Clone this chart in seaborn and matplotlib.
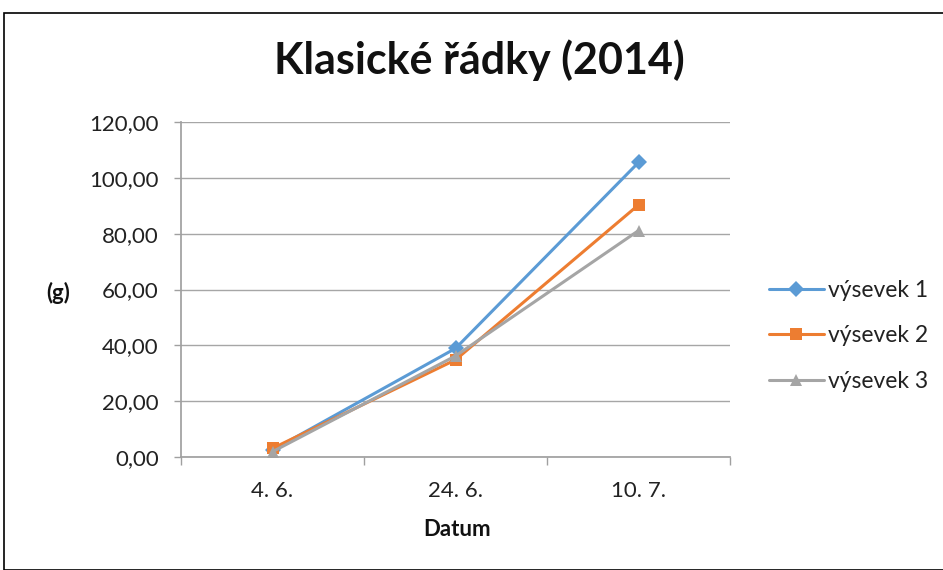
import matplotlib
matplotlib.use("Agg")
import matplotlib.pyplot as plt
import seaborn as sns
import pandas as pd
import numpy as np
from matplotlib.ticker import FixedLocator, FuncFormatter
from matplotlib.patches import Rectangle

categories = ["4. 6.", "24. 6.", "10. 7."]
vysevek1 = [2.5, 38.9, 105.5]
vysevek2 = [3.1, 34.8, 90.3]
vysevek3 = [1.9, 36.2, 81.1]
series_names = ["výsevek 1", "výsevek 2", "výsevek 3"]
title = "Klasické řádky (2014)"
xlabel = "Datum"
ylabel = "(g)"

rows = []
for name, vals in zip(series_names, [vysevek1, vysevek2, vysevek3]):
    for i, v in enumerate(vals):
        rows.append({"x": i, "y": v, "série": name})
df = pd.DataFrame(rows)

sns.set_theme(style="white")
plt.rcParams['font.family'] = ['Lato', 'DejaVu Sans']

fig = plt.figure(figsize=(9.43, 5.70), dpi=100)
ax = fig.add_axes([181/943, 1-457/570, 549/943, (457-122)/570])

palette = {"výsevek 1": "#5B9BD5", "výsevek 2": "#ED7D31", "výsevek 3": "#A5A5A5"}
markers = {"výsevek 1": "D", "výsevek 2": "s", "výsevek 3": "^"}
sns.lineplot(data=df, x="x", y="y", hue="série", style="série",
             palette=palette, markers=markers, dashes=False,
             linewidth=2.2, markersize=8, markeredgewidth=0, ax=ax)

ax.set_xlim(-0.5, len(categories) - 0.5)
ax.set_ylim(0, 120)
ax.set_yticks(np.arange(0, 121, 20))
ax.yaxis.set_major_formatter(FuncFormatter(lambda v, p: f"{v:.2f}".replace(".", ",")))
ax.xaxis.set_major_locator(FixedLocator(np.arange(-0.5, len(categories), 1.0)))
ax.xaxis.set_minor_locator(FixedLocator(np.arange(len(categories))))
ax.set_xticklabels([], minor=False)
ax.set_xticklabels(categories, minor=True)
ax.tick_params(axis="x", which="major", length=6, width=1, color="#a0a0a0", direction="out", bottom=True)
ax.tick_params(axis="x", which="minor", length=0, labelsize=16, pad=17, labelcolor="#222222")
ax.tick_params(axis="y", which="major", length=5, width=1, color="#a0a0a0", direction="out", left=True,
               labelsize=16, pad=11, labelcolor="#222222")

ax.grid(axis="y", color="#a6a6a6", linewidth=1)
ax.grid(axis="x", visible=False)
for s in ["top", "right"]:
    ax.spines[s].set_visible(False)
ax.spines["left"].set_color("#a0a0a0")
ax.spines["bottom"].set_color("#a0a0a0")

ax.set_xlabel("")
ax.set_ylabel("")
fig.text(457/943, 1-530/570, xlabel, fontsize=16, fontweight="bold", ha="center", va="center", color="#111111")
fig.text(58/943, 1-293/570, ylabel, fontsize=16, fontweight="bold", ha="center", va="center", color="#111111")
fig.text(479/943, 1-60/570, title, fontsize=31, fontweight="bold", ha="center", va="center", color="#111111")

leg = ax.legend(loc="center left", bbox_to_anchor=(748/943, 1-336/570), bbox_transform=fig.transFigure,
                frameon=False, fontsize=16.5, handlelength=2.4, labelspacing=1.05, handletextpad=0.2)
for t in leg.get_texts():
    t.set_color("#222222")

fig.patches.append(Rectangle((4/943, 0), 1.0, 1-13/570, transform=fig.transFigure,
                             fill=False, edgecolor="black", linewidth=1.2))

fig.savefig("out.png", dpi=100)
